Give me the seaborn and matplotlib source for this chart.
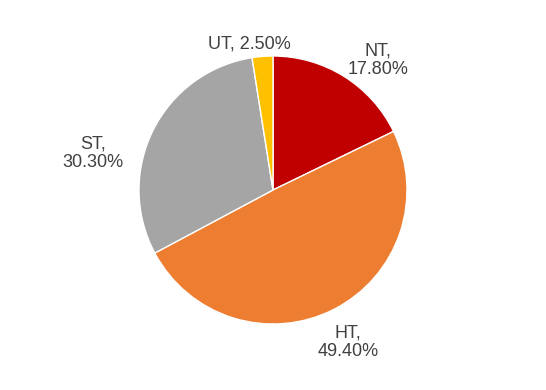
import matplotlib
matplotlib.use("Agg")
import matplotlib.pyplot as plt
import seaborn as sns
import numpy as np

sns.set_theme(style="white")
plt.rcParams['font.family'] = ['Liberation Sans', 'DejaVu Sans']

categories = ["NT", "HT", "ST", "UT"]
values = [17.80, 49.40, 30.30, 2.50]
colors = ["#C00000", "#ED7D31", "#A5A5A5", "#FFC000"]

fig = plt.figure(figsize=(5.46, 3.9), dpi=100)
ax = fig.add_axes([0, 0, 1, 1])
R = 134.0

wedges, texts = ax.pie(values, colors=colors, startangle=90, counterclock=False,
                       radius=1.0, center=(0, 0), frame=False,
                       wedgeprops=dict(edgecolor="white", linewidth=1.0),
                       labels=[f"{c},\n{v:.2f}%" for c, v in zip(categories, values)],
                       labeldistance=1.25,
                       textprops=dict(color="#404040", fontsize=13, ha="center", va="center",
                                      linespacing=1.1))
ax.set_aspect("auto")
ax.set_xlim(-273 / R, (546 - 273) / R)
ax.set_ylim(-(390 - 190) / R, 190 / R)
ax.axis("off")
# label placement (polar: distance, angle deg)
label_pos = [(1.244, 51.0), (1.265, -63.7), (1.37, 168.4), (1.107, 99.1)]
for t, (d, a) in zip(texts, label_pos):
    r = np.deg2rad(a)
    t.set_position((d * np.cos(r), d * np.sin(r)))
    t.set_ha("center")
    t.set_va("center")
texts[3].set_text(f"{categories[3]}, {values[3]:.2f}%")

fig.savefig("out.png", dpi=100)
